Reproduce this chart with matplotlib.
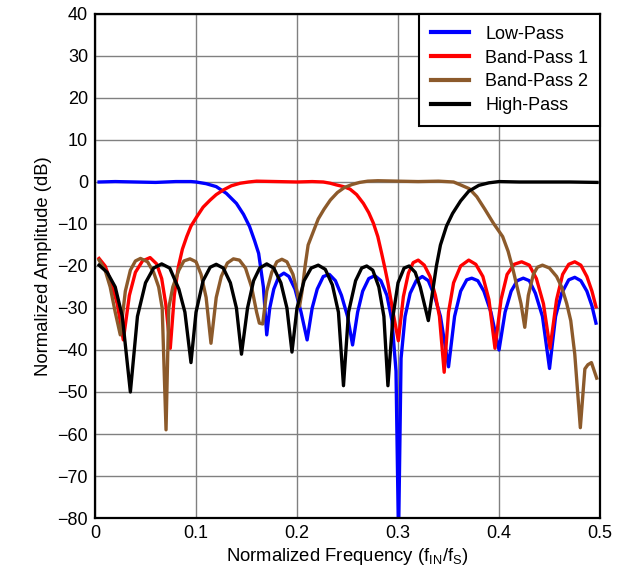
import numpy as np
import matplotlib
matplotlib.use("Agg")
import matplotlib.pyplot as plt

plt.rcParams['font.family'] = ['Liberation Sans', 'DejaVu Sans']
plt.rcParams['mathtext.fontset'] = 'custom'
plt.rcParams['mathtext.rm'] = 'Liberation Sans'

# Low-Pass
lp_f = [0.004, 0.02, 0.04, 0.06, 0.08, 0.095, 0.1, 0.11, 0.12, 0.13, 0.14, 0.147, 0.153, 0.158,
        0.162, 0.1667, 0.17, 0.173, 0.177, 0.182, 0.187, 0.192, 0.198, 0.204, 0.21, 0.215, 0.22,
        0.226, 0.232, 0.238, 0.244, 0.25, 0.255, 0.26, 0.265, 0.271, 0.277, 0.283, 0.289, 0.294,
        0.298, 0.3005, 0.303, 0.307, 0.312, 0.318, 0.324, 0.33, 0.336, 0.342, 0.35, 0.356, 0.362,
        0.368, 0.373, 0.379, 0.385, 0.392, 0.4, 0.406, 0.412, 0.418, 0.424, 0.43, 0.436, 0.443,
        0.45, 0.456, 0.462, 0.469, 0.475, 0.481, 0.487, 0.492, 0.496]
lp_db = [0.0, 0.1, 0.0, -0.1, 0.1, 0.1, 0.0, -0.4, -1.1, -2.7, -5.1, -7.7, -10.6, -14.0,
         -17.0, -25.0, -36.4, -30.0, -25.5, -22.5, -21.7, -22.5, -25.5, -31.0, -37.6, -30.0, -25.5,
         -22.5, -22.0, -23.5, -27.0, -32.0, -38.8, -31.0, -26.0, -23.0, -22.3, -23.5, -27.0, -33.0,
         -45.0, -85.0, -42.0, -32.0, -26.5, -23.5, -22.5, -23.5, -27.0, -32.0, -44.0, -32.0, -26.0,
         -23.3, -22.9, -23.5, -26.0, -31.0, -40.0, -31.0, -26.0, -23.5, -22.9, -23.5, -26.5, -32.0,
         -44.4, -32.0, -26.5, -23.3, -22.7, -23.5, -26.0, -29.5, -33.6]

# Band-Pass 1
bp1_f = [0.004, 0.01, 0.016, 0.022, 0.028, 0.034, 0.04, 0.047, 0.0545, 0.061, 0.066, 0.07,
         0.0745, 0.0785, 0.0825, 0.0865, 0.0908, 0.095, 0.1007, 0.107, 0.114, 0.12, 0.127, 0.135,
         0.1436, 0.152, 0.16, 0.18, 0.2, 0.215, 0.226, 0.233, 0.239, 0.246, 0.2525, 0.259, 0.2657,
         0.271, 0.2756, 0.28, 0.2838, 0.287, 0.29, 0.2953, 0.3003, 0.3053, 0.3103, 0.315, 0.32,
         0.326, 0.3317, 0.337, 0.341, 0.3457, 0.35, 0.355, 0.362, 0.37, 0.377, 0.384, 0.39, 0.396,
         0.402, 0.408, 0.415, 0.4224, 0.43, 0.437, 0.444, 0.4505, 0.457, 0.463, 0.469, 0.475,
         0.481, 0.487, 0.492, 0.496]
bp1_db = [-18.2, -20.0, -24.0, -29.0, -37.6, -27.0, -21.5, -18.8, -18.0, -19.5, -23.0, -29.0,
          -39.6, -27.0, -20.2, -16.0, -13.0, -10.5, -8.3, -6.0, -4.3, -3.0, -1.9, -0.9,
          -0.3, 0.0, 0.2, 0.1, 0.0, 0.1, 0.0, -0.3, -0.7, -1.1, -1.7, -3.0, -5.1,
          -7.3, -9.8, -13.0, -17.0, -20.5, -24.0, -31.3, -37.8, -27.3, -21.7, -19.2, -18.6,
          -19.8, -22.5, -27.0, -32.0, -45.3, -31.0, -24.0, -20.0, -18.6, -19.6, -22.5, -28.0, -39.6,
          -28.0, -22.0, -19.6, -19.0, -19.8, -23.0, -29.0, -39.6, -28.0, -22.0, -19.6, -19.0,
          -19.8, -22.5, -26.0, -29.7]

# Band-Pass 2
bp2_f = [0.004, 0.01, 0.015, 0.02, 0.025, 0.03, 0.035, 0.04, 0.045, 0.052, 0.058, 0.063, 0.0665,
         0.0703, 0.073, 0.077, 0.083, 0.088, 0.094, 0.1, 0.105, 0.11, 0.1148, 0.12, 0.125, 0.131,
         0.137, 0.143, 0.149, 0.155, 0.16, 0.1627, 0.166, 0.17, 0.175, 0.18, 0.185, 0.19, 0.196,
         0.2, 0.2025, 0.205, 0.208, 0.211, 0.2168, 0.221, 0.2267, 0.233, 0.24, 0.247, 0.2545,
         0.262, 0.27, 0.28, 0.3, 0.32, 0.34, 0.355, 0.362, 0.3706, 0.378, 0.386, 0.3944, 0.4036,
         0.409, 0.414, 0.4218, 0.4255, 0.429, 0.434, 0.438, 0.443, 0.45, 0.457, 0.462, 0.467,
         0.471, 0.475, 0.4805, 0.485, 0.488, 0.4915, 0.4967]
bp2_db = [-18.6, -21.0, -25.0, -31.0, -36.4, -26.0, -21.0, -18.8, -18.2, -19.0, -21.5, -25.0, -30.0,
          -59.0, -30.0, -25.0, -21.0, -18.8, -18.3, -19.0, -22.0, -27.5, -38.4, -27.5, -22.5, -19.3,
          -18.3, -18.6, -20.5, -25.0, -31.0, -33.6, -33.8, -26.0, -21.5, -19.0, -18.4, -19.0, -22.0,
          -26.0, -29.6, -26.0, -20.0, -15.0, -11.4, -8.8, -6.5, -4.3, -2.5, -1.3, -0.6,
          -0.1, 0.2, 0.3, 0.2, 0.1, 0.2, 0.0, -0.7, -1.6, -3.5, -6.5, -9.8, -13.0,
          -16.5, -21.0, -29.0, -34.6, -27.0, -22.0, -20.3, -19.8, -20.5, -22.5, -25.0, -28.9,
          -33.0, -41.0, -58.5, -44.5, -43.5, -43.0, -46.7]

# High-Pass
hp_f = [0.004, 0.012, 0.02, 0.027, 0.035, 0.042, 0.05, 0.058, 0.066, 0.074, 0.083, 0.089, 0.095,
        0.1, 0.107, 0.114, 0.12, 0.127, 0.134, 0.14, 0.145, 0.151, 0.157, 0.163, 0.17, 0.177,
        0.184, 0.19, 0.195, 0.2, 0.207, 0.214, 0.221, 0.228, 0.235, 0.241, 0.246, 0.251, 0.258,
        0.264, 0.269, 0.275, 0.281, 0.286, 0.29, 0.295, 0.3, 0.306, 0.311, 0.317, 0.322, 0.33,
        0.338, 0.342, 0.348, 0.354, 0.362, 0.37, 0.38, 0.39, 0.4, 0.42, 0.45, 0.47, 0.497]
hp_db = [-19.8, -21.5, -25.0, -32.0, -50.0, -32.0, -24.0, -20.5, -19.5, -20.5, -25.5, -31.0, -43.0,
         -31.0, -23.5, -20.3, -19.6, -20.5, -24.0, -30.0, -41.0, -30.0, -23.5, -20.5, -19.5, -20.5,
         -24.0, -30.0, -40.5, -30.0, -23.5, -20.5, -19.8, -20.8, -24.5, -31.0, -48.5, -31.0, -23.5,
         -20.5, -20.0, -21.0, -25.0, -32.0, -48.5, -32.0, -24.0, -20.5, -20.0, -21.5, -25.0, -33.0,
         -20.0, -15.0, -10.5, -7.5, -4.5, -2.2, -0.8, -0.2, 0.1, 0.0, 0.0, 0.0, -0.1]

fig = plt.figure(figsize=(6.26, 5.78), dpi=100)
ax = fig.add_axes([0.1518, 0.1038, 0.8067, 0.872])

lw = 2.4
ax.plot(lp_f, lp_db, color='#0000ff', lw=lw, label='Low-Pass')
ax.plot(bp1_f, bp1_db, color='#ff0000', lw=lw, label='Band-Pass 1')
ax.plot(bp2_f, bp2_db, color='#8c5a2b', lw=lw, label='Band-Pass 2')
ax.plot(hp_f, hp_db, color='black', lw=lw, label='High-Pass')

ax.set_xlim(0, 0.5)
ax.set_ylim(-80, 40)
ax.set_xticks([0, 0.1, 0.2, 0.3, 0.4, 0.5])
ax.set_xticklabels(['0', '0.1', '0.2', '0.3', '0.4', '0.5'])
ax.set_yticks(np.arange(-80, 41, 10))
ax.grid(True, color='#808080', lw=1)
ax.set_axisbelow(True)
ax.tick_params(length=0, labelsize=13, pad=5)
for s in ax.spines.values():
    s.set_linewidth(1.6)

ax.set_xlabel(r'Normalized Frequency (f$_{\rm IN}$/f$_{\rm S}$)', fontsize=13.3, labelpad=3)
ax.set_ylabel('Normalized Amplitude (dB)', fontsize=13.3, labelpad=4)

leg = ax.legend(loc='upper right', fontsize=13, fancybox=False, framealpha=1,
                edgecolor='black', borderaxespad=0, handlelength=2.1, labelspacing=0.38,
                handletextpad=0.9, borderpad=0.65)
leg.get_frame().set_linewidth(1.5)
for line in leg.get_lines():
    line.set_linewidth(3)

fig.savefig('out.png', dpi=100)
